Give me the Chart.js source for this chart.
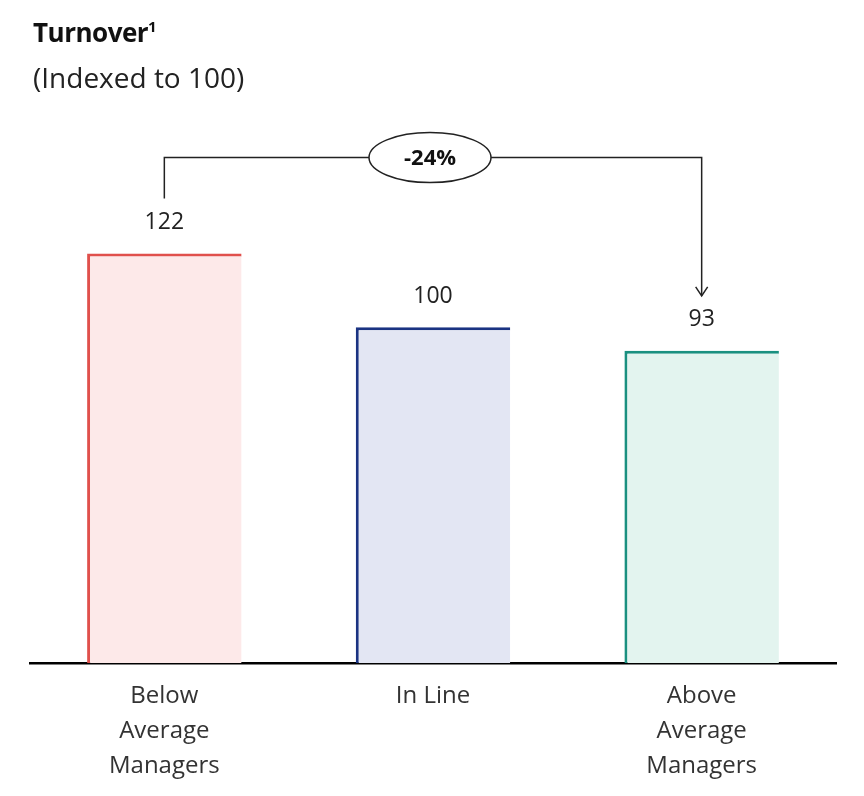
<!DOCTYPE html>
<html><head><meta charset="utf-8">
<script src="https://cdn.jsdelivr.net/npm/chart.js@4"></script>
<style>
body{margin:0;background:#fff;font-family:'Open Sans',sans-serif;}
#wrap{position:relative;width:864px;height:796px;}
#t{position:absolute;left:33px;top:14px;font-size:26px;font-weight:700;color:#111;letter-spacing:-0.5px;}
#t sup{font-size:15px;}
#s{position:absolute;left:33px;top:58px;font-size:28px;color:#222;}
canvas{position:absolute;left:0;top:0;}
</style></head><body>
<div id="wrap">
<canvas id="c" width="864" height="796"></canvas>
<div id="t">Turnover<sup>1</sup></div>
<div id="s">(Indexed to 100)</div>
</div>
<script>
const categories=[["Below","Average","Managers"],"In Line",["Above","Average","Managers"]];
const values=[122,100,93];
const changeLabel="-24%";
const borderColors=["#e0504c","#1a3382","#1a9080"];
const fillColors=["#fde9e9","#e3e6f3","#e3f4ef"];

const annot={id:'annot',afterDatasetsDraw(chart){
  const ctx=chart.ctx, bars=chart.getDatasetMeta(0).data;
  ctx.save();
  ctx.fillStyle='#222';ctx.font='23px "Open Sans"';ctx.textAlign='center';ctx.textBaseline='middle';
  bars.forEach((b,i)=>ctx.fillText(String(values[i]),b.x,b.y-31));
  const b0=bars[0],b2=bars[2];
  const y0=b0.y-55, yTop=b0.y-96, y2=b2.y-55;
  ctx.strokeStyle='#222';ctx.lineWidth=1.5;
  ctx.beginPath();ctx.moveTo(b0.x,y0);ctx.lineTo(b0.x,yTop);ctx.lineTo(b2.x,yTop);ctx.lineTo(b2.x,y2);ctx.stroke();
  ctx.beginPath();ctx.moveTo(b2.x-6,y2-9);ctx.lineTo(b2.x,y2);ctx.lineTo(b2.x+6,y2-9);ctx.stroke();
  const cx=(b0.x+b2.x)/2-3;
  ctx.beginPath();ctx.ellipse(cx,yTop,61,25,0,0,Math.PI*2);ctx.fillStyle='#fff';ctx.fill();ctx.stroke();
  ctx.fillStyle='#111';ctx.font='bold 22px "Open Sans"';ctx.fillText(changeLabel,cx,yTop+1);
  ctx.restore();
}};

new Chart(document.getElementById('c'),{
  type:'bar',
  data:{labels:categories,datasets:[{data:values,backgroundColor:fillColors,borderColor:borderColors,
    borderWidth:{top:3,left:3,right:0,bottom:0},borderSkipped:false,categoryPercentage:1,barPercentage:0.575}]},
  options:{responsive:false,animation:false,
    layout:{padding:{left:30,right:28,top:130,bottom:0}},
    plugins:{legend:{display:false},tooltip:{enabled:false}},
    scales:{
      y:{display:false,min:0,max:158.8},
      x:{grid:{display:false},border:{display:true,color:'#000',width:2.5},
        ticks:{color:'#333',font:{family:'Open Sans',size:24,lineHeight:1.45},padding:8},
        afterFit(s){s.height=133;}}
    }},
  plugins:[annot]
});
</script></body></html>
